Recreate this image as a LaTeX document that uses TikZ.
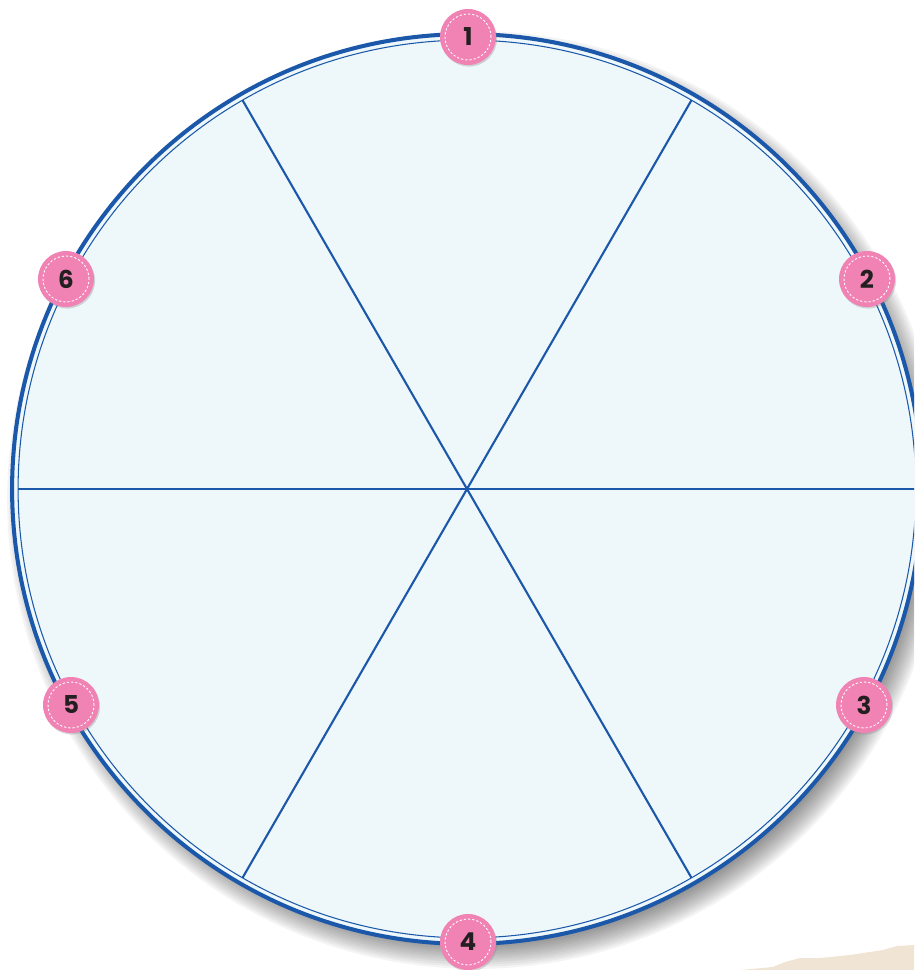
\documentclass[tikz,border=0pt]{standalone}
\usepackage{fontspec}
\setsansfont{Poppins}
\usetikzlibrary{calc,shadows}
\definecolor{wheelBlue}{RGB}{28,88,170}
\definecolor{wheelFill}{RGB}{238,248,250}
\definecolor{badgePink}{RGB}{241,130,180}
\definecolor{badgeText}{RGB}{35,31,32}
\definecolor{paperTan}{RGB}{240,228,212}
\tikzset{
  rim/.style={draw=wheelBlue, line width=2.3pt},
  innerrim/.style={draw=wheelBlue, line width=0.6pt},
  spoke/.style={draw=wheelBlue, line width=1.2pt},
  badge/.style={circle, fill=badgePink, minimum size=1.12cm, inner sep=0pt,
                font=\sffamily\bfseries\fontsize{14}{14}\selectfont, text=badgeText,
                drop shadow={shadow xshift=0.6pt, shadow yshift=-0.9pt, opacity=0.3}},
  stitch/.style={draw=white, dash pattern=on 1.3pt off 1.1pt, line width=0.5pt}
}
\begin{document}
\begin{tikzpicture}[x=0.02cm, y=-0.02cm]
\useasboundingbox (0,0) rectangle (914,970);
\clip (0,0) rectangle (914,970);
% paper scrap
\fill[paperTan] (740,970) -- (773,967) -- (785,962) -- (800,958) -- (820,958)
  -- (850,955) -- (883,950) -- (897,946) -- (914,945) -- (914,970) -- cycle;
\coordinate (c) at (467,489);
% shadow
\foreach \k in {0,...,11}{
  \pgfmathsetmacro\rr{(469-2.2*\k)*0.569}
  \fill[black, opacity=0.045] ($(c)+(9,11)$) circle[radius=\rr pt];
}
% wheel
\fill[wheelFill] (c) circle[radius=9.08cm];
\draw[innerrim] (c) circle[radius=8.98cm];
\foreach \a in {0,60,...,300}
  \draw[spoke] (c) -- ($(c)+(\a:449)$);
\draw[rim] (c) circle[radius=9.1cm];
% badges
\node[badge] (b1) at (468,37) {1};
\node[badge] (b2) at (867,279) {2};
\node[badge] (b3) at (864,705) {3};
\node[badge] (b4) at (468,942) {4};
\node[badge] (b5) at (71,705) {5};
\node[badge] (b6) at (66,279) {6};
\foreach \b in {b1,b2,b3,b4,b5,b6}
  \draw[stitch] (\b) circle[radius=0.46cm];
\end{tikzpicture}
\end{document}
